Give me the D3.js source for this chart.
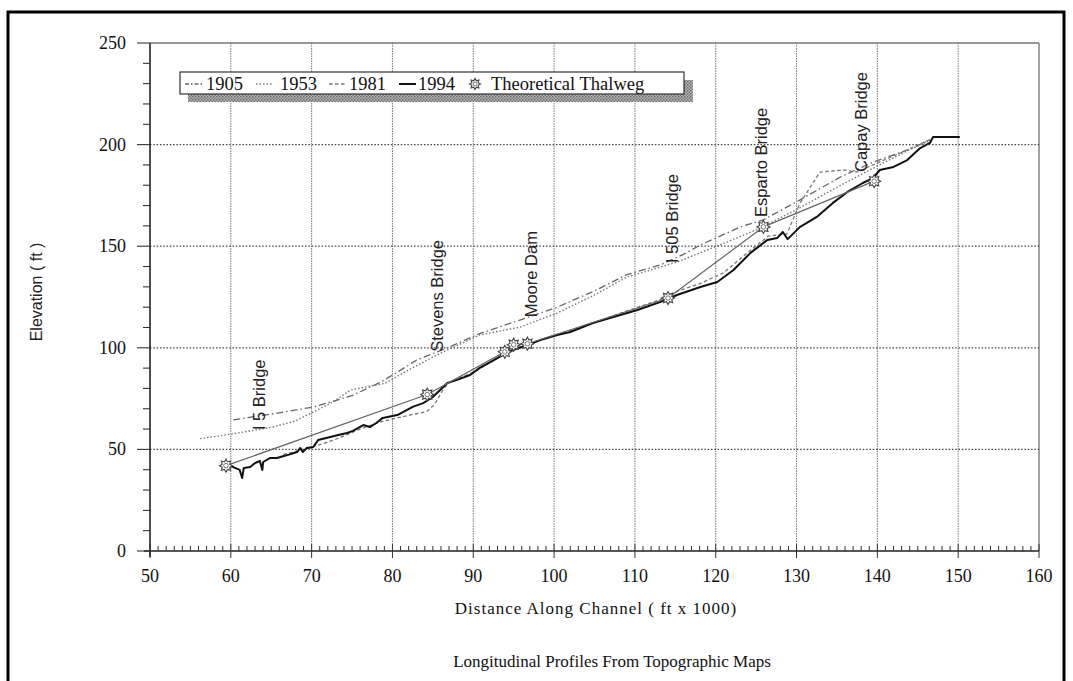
<!DOCTYPE html>
<html><head><meta charset="utf-8">
<script src="https://cdn.jsdelivr.net/npm/d3@7"></script>
<style>
html,body{margin:0;padding:0;background:#fff;}
svg{display:block;}
</style></head>
<body>
<svg id="chart" width="1073" height="681"></svg>
<script>
// ---------------- DATA ----------------
const xTickValues = [50,60,70,80,90,100,110,120,130,140,150,160];
const yTickValues = [0,50,100,150,200,250];
const seriesNames = ["1905","1953","1981","1994","Theoretical Thalweg"];

const profile1905 = [[60.3,64.5],[66,68],[70.4,71],[75,76.5],[78.5,83],[80.6,88],[83,94],[86.8,100],[90.8,107],[94.9,112.5],[100.4,120],[105,128],[109,136],[113.1,140.7],[116,146],[118.1,150.6],[123,159.4],[125.9,163],[130.4,172.7],[135.4,184],[139.5,191.4],[143.7,197.3],[146.5,202.3]];
const profile1953 = [[56.2,55.3],[60,57.5],[63,59.5],[65.2,61],[68,64],[70.2,68.4],[72.5,73],[74.8,79.2],[77,81],[79.1,82.5],[81.3,87.6],[85.5,96.5],[90.8,106.3],[95.8,110.2],[100.4,117.1],[105,126],[109,134.8],[115.2,142.2],[120.5,150.6],[125,158],[130,168],[135,179],[140,189.5],[144,197.5],[146.5,202]];
const profile1981 = [[66.5,47.5],[70,51],[73,55],[76,60],[78.5,63.5],[80.6,65.5],[82.5,67.2],[84.2,68.5],[85.2,72],[86.2,79],[87,83],[90,88],[95,99.5],[100,106],[105,112.5],[110,119.5],[113,123.5],[115,127.5],[118,131.5],[121,137],[124,147],[126.5,155],[128.8,156],[130.4,171],[132.9,186.5],[135.8,187.5],[137.5,186.5],[140,191],[143.5,197],[146.5,202.5]];
const profile1994 = [[59.4,42.3],[60.3,41.3],[61.1,39.9],[61.4,35.9],[61.6,40.8],[62.4,41.3],[63.0,43.3],[63.6,44.3],[63.9,39.9],[64.0,43.8],[64.9,45.8],[65.7,45.8],[67.0,47.2],[68.2,48.7],[68.6,50.7],[68.9,48.7],[69.4,50.7],[70.2,51.2],[70.8,54.6],[72.3,56.1],[73.3,57.1],[74.4,58.1],[75.1,59.1],[76.4,62.0],[77.2,61.0],[78.0,63.0],[78.8,65.5],[80.6,66.9],[81.3,68.4],[82.5,70.9],[83.8,72.8],[85.0,75.8],[85.9,79.2],[86.8,82.7],[88.0,84.2],[89.6,86.6],[90.8,90.1],[92.1,93.0],[93.7,96.5],[94.9,98.9],[96.7,101.4],[98.3,103.8],[100.4,106.3],[102.0,107.8],[104.8,112.2],[110.3,118.6],[113.1,122.5],[115.2,126.0],[118.1,129.9],[120.2,132.4],[122.2,138.3],[124.3,146.7],[126.4,153.1],[127.6,154.0],[128.3,157],[128.9,153.5],[130.4,159.4],[132.5,164.4],[134.5,171.3],[136.3,176.7],[138.2,181.1],[139.5,183.6],[140.3,187.5],[142.0,189.0],[143.7,192.4],[145.3,198.3],[146.5,200.8],[146.9,203.7],[150.2,203.7]];
const thalwegPoints = [[59.4,42],[84.3,77],[93.9,98],[95.0,101.5],[96.7,102],[114.1,124.5],[125.9,159.5],[139.6,182]];

const annotationLabels = ["I 5 Bridge","Stevens Bridge","Moore Dam","I 505 Bridge","Esparto Bridge","Capay Bridge"];
const annotationDist = [64.2,86.3,97.9,115.3,126.4,138.7];
const annotationElev = [59.5,98,115,141.7,164.4,186.5];

// ---------------- LAYOUT ----------------
const svg = d3.select("#chart");
const x = d3.scaleLinear().domain([50,160]).range([150,1039]);
const y = d3.scaleLinear().domain([0,250]).range([551,43]);
const serif = "'Liberation Serif','Times New Roman',serif";
const sans = "'Liberation Sans',Arial,sans-serif";

// outer frame
svg.append("rect").attr("x",8).attr("y",12).attr("width",1056).attr("height",700)
  .attr("fill","none").attr("stroke","#000").attr("stroke-width",3);

// vertical grid
const grid = svg.append("g");
grid.selectAll("line.vg").data(xTickValues.slice(1,-1)).join("line")
  .attr("x1",d=>x(d)).attr("x2",d=>x(d)).attr("y1",y(250)).attr("y2",y(0))
  .attr("stroke","#777").attr("stroke-width",1).attr("stroke-dasharray","1.5,1");
grid.append("line").attr("x1",x(160)).attr("x2",x(160)).attr("y1",y(250)).attr("y2",y(0))
  .attr("stroke","#666").attr("stroke-width",1.2);
grid.append("line").attr("x1",x(50)).attr("x2",x(160)).attr("y1",y(250)).attr("y2",y(250))
  .attr("stroke","#777").attr("stroke-width",1.5);
grid.selectAll("line.hg").data(yTickValues.slice(1,-1)).join("line")
  .attr("x1",x(50)).attr("x2",x(160)).attr("y1",d=>y(d)).attr("y2",d=>y(d))
  .attr("stroke","#444").attr("stroke-width",1.3).attr("stroke-dasharray","1.5,1.8");

// axes
const yMinor = d3.range(0,251,10);
const xMinor = d3.range(50,161,1);
const ax = svg.append("g");
ax.append("line").attr("x1",x(50)).attr("x2",x(50)).attr("y1",y(250)).attr("y2",y(0)+6)
  .attr("stroke","#222").attr("stroke-width",1.6);
ax.append("line").attr("x1",x(50)-6).attr("x2",x(160)).attr("y1",y(0)).attr("y2",y(0))
  .attr("stroke","#222").attr("stroke-width",1.6);
ax.selectAll("line.ymin").data(yMinor).join("line")
  .attr("x1",d=>x(50)-(d%50===0?13:7)).attr("x2",x(50)).attr("y1",d=>y(d)).attr("y2",d=>y(d))
  .attr("stroke","#333").attr("stroke-width",1.1);
ax.selectAll("line.xmin").data(xMinor).join("line")
  .attr("x1",d=>x(d)).attr("x2",d=>x(d))
  .attr("y1",d=>y(0)-(d%10===0?7:5)).attr("y2",d=>y(0)+(d%10===0?7:0))
  .attr("stroke","#333").attr("stroke-width",1);

ax.selectAll("text.yl").data(yTickValues).join("text")
  .attr("x",126).attr("y",d=>y(d)+6).attr("text-anchor","end")
  .attr("font-family",serif).attr("font-size",18).attr("fill","#111").text(d=>d);
ax.selectAll("text.xl").data(xTickValues).join("text")
  .attr("x",d=>x(d)).attr("y",582).attr("text-anchor","middle")
  .attr("font-family",serif).attr("font-size",18).attr("fill","#111").text(d=>d);

svg.append("text").attr("transform","translate(42,292) rotate(-90)").attr("text-anchor","middle")
  .attr("font-family",sans).attr("font-size",16).attr("fill","#222").text("Elevation ( ft )");
svg.append("text").attr("x",596).attr("y",614).attr("text-anchor","middle")
  .attr("font-family",serif).attr("font-size",17).attr("letter-spacing",1).attr("fill","#111")
  .text("Distance Along Channel ( ft x 1000)");
svg.append("text").attr("x",612).attr("y",667).attr("text-anchor","middle")
  .attr("font-family",serif).attr("font-size",17).attr("fill","#111").text("Longitudinal Profiles From Topographic Maps");

// lines
const line = d3.line().x(d=>x(d[0])).y(d=>y(d[1]));
const styles = {
  "1905": {stroke:"#666", w:1.3, dash:"7,3,1.5,3"},
  "1953": {stroke:"#777", w:1.4, dash:"1.5,2"},
  "1981": {stroke:"#777", w:1.3, dash:"3.5,2.5"},
  "1994": {stroke:"#111", w:2, dash:null},
  "Theoretical Thalweg": {stroke:"#666", w:1.2, dash:null}
};
const seriesData = [profile1905, profile1953, profile1981, profile1994, thalwegPoints];
const plot = svg.append("g");
seriesNames.forEach((name,i)=>{
  const s = styles[name];
  plot.append("path").datum(seriesData[i]).attr("d",line).attr("fill","none")
    .attr("stroke",s.stroke).attr("stroke-width",s.w)
    .attr("stroke-dasharray",s.dash).attr("stroke-linejoin","round");
});

function gear(g, cx, cy, r){
  const gg = g.append("g").attr("transform",`translate(${cx},${cy})`);
  const pts = [];
  for(let k=0;k<16;k++){
    const a = k*Math.PI/8;
    const rr = k%2===0 ? r : r*0.62;
    pts.push([rr*Math.cos(a), rr*Math.sin(a)]);
  }
  gg.append("path").attr("d","M"+pts.map(p=>p.join(",")).join("L")+"Z")
    .attr("fill","#fff").attr("stroke","#444").attr("stroke-width",1.1);
  gg.append("circle").attr("r",r*0.35).attr("fill","#fff").attr("stroke","#555").attr("stroke-width",0.8);
}
thalwegPoints.forEach(p=>gear(plot, x(p[0]), y(p[1]), 6.5));

// annotations
annotationLabels.forEach((t,i)=>{
  svg.append("text").attr("transform",`translate(${x(annotationDist[i])},${y(annotationElev[i])}) rotate(-90)`)
    .attr("font-family",sans).attr("font-size",16.5).attr("fill","#222").text(t);
});

// legend
const lg = svg.append("g");
const defs = svg.append("defs");
const pat = defs.append("pattern").attr("id","hatch").attr("width",3).attr("height",3).attr("patternUnits","userSpaceOnUse");
pat.append("rect").attr("width",3).attr("height",3).attr("fill","#bbb");
pat.append("rect").attr("width",1.5).attr("height",1.5).attr("fill","#666");
pat.append("rect").attr("x",1.5).attr("y",1.5).attr("width",1.5).attr("height",1.5).attr("fill","#777");
lg.append("rect").attr("x",188).attr("y",80).attr("width",505).attr("height",22).attr("fill","url(#hatch)");
lg.append("rect").attr("x",180).attr("y",72).attr("width",504).attr("height",22)
  .attr("fill","#fff").attr("stroke","#333").attr("stroke-width",1.2);
const legSample = [185,256,329,399,475];
const legText = [206,280,349,418,491];
seriesNames.forEach((name,i)=>{
  const s = styles[name];
  if(name==="Theoretical Thalweg"){
    gear(lg, legSample[i], 84, 5.5);
  } else {
    lg.append("line").attr("x1",legSample[i]).attr("x2",legSample[i]+17).attr("y1",84).attr("y2",84)
      .attr("stroke",s.stroke).attr("stroke-width",s.w).attr("stroke-dasharray",name==="1905"?"4,2,1.5,2":s.dash);
  }
  lg.append("text").attr("x",legText[i]).attr("y",90).attr("font-family",serif).attr("font-size",18.5)
    .attr("fill","#111").text(name);
});
</script>
</body></html>
